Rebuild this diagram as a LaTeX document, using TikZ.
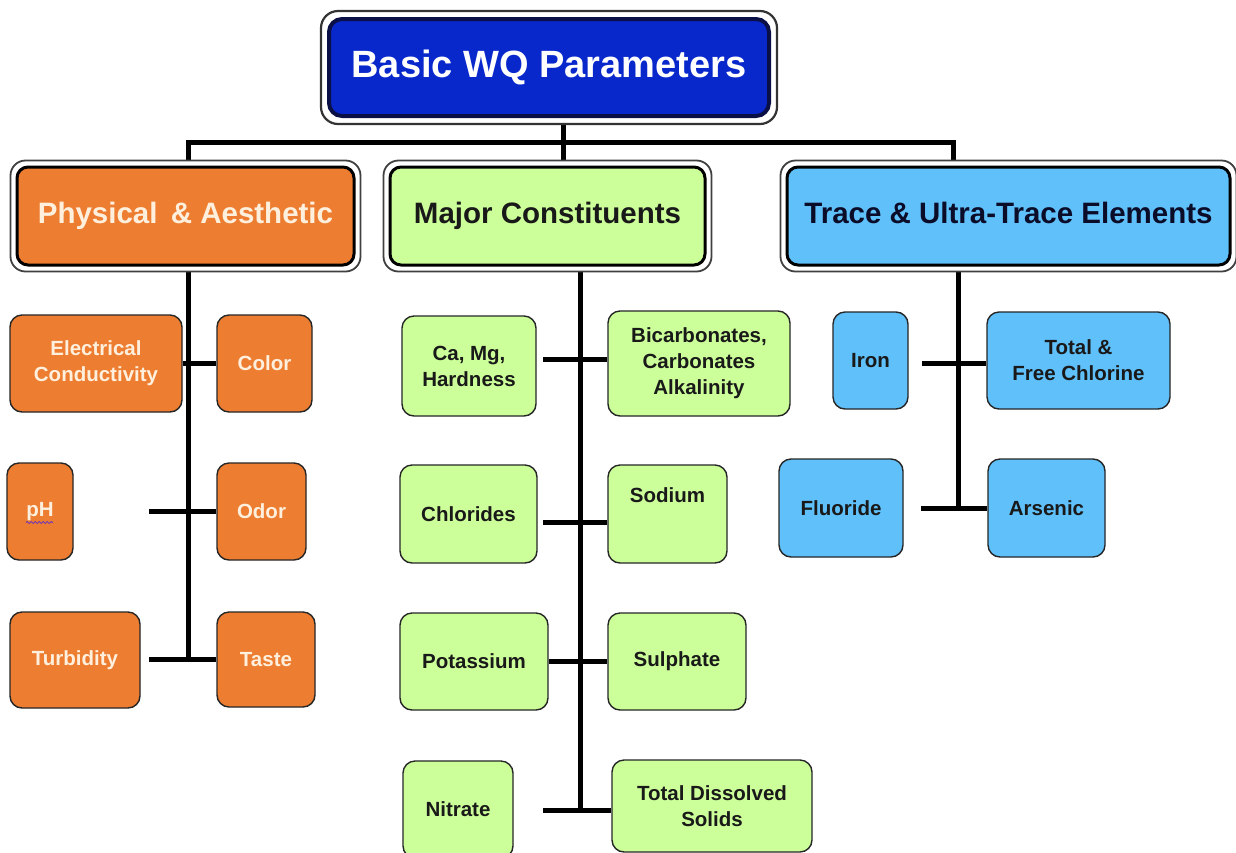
\documentclass[tikz,border=0pt]{standalone}
\usepackage{fontspec}
\setmainfont{Liberation Sans}
\usetikzlibrary{decorations.pathmorphing}
\definecolor{titleblue}{RGB}{8,40,204}
\definecolor{titleline}{RGB}{10,15,70}
\definecolor{orng}{RGB}{237,125,49}
\definecolor{lgreen}{RGB}{204,255,153}
\definecolor{lblue}{RGB}{95,192,250}
\definecolor{cream}{RGB}{255,240,222}
\definecolor{darktxt}{RGB}{25,25,25}
\definecolor{navytxt}{RGB}{10,12,40}
\definecolor{spell}{RGB}{120,60,170}
\pgfdeclarelayer{bg}
\pgfdeclarelayer{framelayer}
\pgfsetlayers{bg,framelayer,main}
\begin{document}
\begin{tikzpicture}[x=1pt,y=-1pt,
  conn/.style={line width=5pt,draw=black},
  leaf/.style={draw=black!85, line width=1.4pt, rounded corners=12pt, inner sep=0pt,
    align=center, font=\fontsize{20.5}{26}\selectfont\bfseries},
  oleaf/.style={leaf, fill=orng, text=cream},
  gleaf/.style={leaf, fill=lgreen, text=darktxt},
  bleaf/.style={leaf, fill=lblue, text=darktxt},
  cat/.style={draw=black, line width=3pt, rounded corners=11pt, inner sep=0pt,
    minimum height=98pt, text height=21pt, text depth=6pt,
    font=\fontsize{29.5}{34}\selectfont\bfseries},
  catframe/.style={draw=black!75, line width=1.8pt, fill=white, rounded corners=15pt},
]
\clip (0,0) rectangle (1236,852);
\begin{pgfonlayer}{bg}
  \fill[white] (0,0) rectangle (1236,852);
\end{pgfonlayer}

% title
\node[draw=titleline, line width=4pt, fill=titleblue, rounded corners=13pt, inner sep=0pt,
  minimum width=440pt, minimum height=97pt, text=white, text height=27pt, text depth=7pt,
  font=\fontsize{38}{44}\selectfont\bfseries] (title) at (549,67.5) {Basic WQ Parameters};

% categories
\node[cat, fill=orng, text=cream, minimum width=337pt] (phys) at (185.5,216)
  {Physical\hspace{0.45em}\& Aesthetic};
\node[cat, fill=lgreen, text=darktxt, minimum width=315pt] (major) at (547.5,216)
  {Major Constituents};
\node[cat, fill=lblue, text=navytxt, minimum width=443pt] (trace) at (1008.5,216)
  {Trace \& Ultra-Trace Elements};

% frames
\begin{pgfonlayer}{framelayer}
  \draw[catframe, rounded corners=17pt, line width=2.2pt, draw=black!80]
    ([shift={(-6,-6)}]title.north west) rectangle ([shift={(6,6)}]title.south east);
  \foreach \n in {phys,major,trace}
    \draw[catframe] ([shift={(-5,-5)}]\n.north west) rectangle ([shift={(5,5)}]\n.south east);
\end{pgfonlayer}

% physical leaves
\node[oleaf, minimum width=172pt, minimum height=97pt] (ec) at (96,363.5) {Electrical\\Conductivity};
\node[oleaf, minimum width=95pt, minimum height=97pt] (color) at (264.5,363.5) {Color};
\node[oleaf, minimum width=66pt, minimum height=97pt] (ph) at (40,511.5) {pH};
\node[oleaf, minimum width=89pt, minimum height=97pt] (odor) at (261.5,511.5) {Odor};
\node[oleaf, minimum width=130pt, minimum height=96pt] (turb) at (75,660) {Turbidity};
\node[oleaf, minimum width=98pt, minimum height=95pt] (taste) at (266,659.5) {Taste};
\draw[decorate, decoration={snake, amplitude=1pt, segment length=4pt}, draw=spell, line width=1pt]
  ([shift={(-14,11)}]ph.center) -- ([shift={(13,11)}]ph.center);

% major leaves
\node[gleaf, minimum width=134pt, minimum height=100pt] (camg) at (469,366) {Ca, Mg,\\Hardness};
\node[gleaf, minimum width=182pt, minimum height=105pt] (bicarb) at (699,363.5)
  {\baselineskip=24pt Bicarbonates,\\Carbonates\\Alkalinity};
\node[gleaf, minimum width=137pt, minimum height=98pt] (chlor) at (468.5,514) {Chlorides};
\node[gleaf, minimum width=119pt, minimum height=98pt] (sodium) at (667.5,514) {\raisebox{38pt}{Sodium}};
\node[gleaf, minimum width=148pt, minimum height=97pt] (potas) at (474,661.5) {Potassium};
\node[gleaf, minimum width=138pt, minimum height=97pt] (sulph) at (677,661.5) {Sulphate};
\node[gleaf, minimum width=110pt, minimum height=97pt] (nitrate) at (458,809.5) {Nitrate};
\node[gleaf, minimum width=200pt, minimum height=92pt] (tds) at (712,806) {\baselineskip=29pt Total Dissolved\\Solids};

% trace leaves
\node[bleaf, minimum width=75pt, minimum height=97pt] (iron) at (870.5,360.5) {Iron};
\node[bleaf, minimum width=183pt, minimum height=97pt] (chlorine) at (1078.5,360.5) {\baselineskip=31pt Total \&\\Free Chlorine};
\node[bleaf, minimum width=124pt, minimum height=98pt] (fluor) at (841,508) {Fluoride};
\node[bleaf, minimum width=117pt, minimum height=98pt] (arsenic) at (1046.5,508) {Arsenic};

% connectors
\coordinate (bar) at (563,142);
\coordinate (pl) at (188,142);
\coordinate (pr) at (953,142);
\coordinate (pbot) at (188,659);
\coordinate (mbot) at (580,810);
\coordinate (tbot) at (958,508);
\coordinate (phs) at (149,511);
\coordinate (turbs) at (149,659);
\coordinate (cas) at (543,359);
\coordinate (cls) at (543,522);
\coordinate (nis) at (543,810);
\coordinate (irs) at (922,363);
\coordinate (fls) at (921,508);
\begin{pgfonlayer}{bg}
  \draw[conn] (title.south -| bar) -- (major.north -| bar);
  \draw[conn] (phys.north -| pl) -- (pl) -- (pr) -- (trace.north -| pr);
  \draw[conn] (phys.south -| pbot) -- (pbot);
  \draw[conn] (major.south -| mbot) -- (mbot);
  \draw[conn] (trace.south -| tbot) -- (tbot);
\end{pgfonlayer}
\draw[conn] (ec.east) -- (ec.east -| color.west);
\draw[conn] (phs) -- (phs -| odor.west);
\draw[conn] (turbs) -- (turbs -| taste.west);
\draw[conn] (cas) -- (cas -| bicarb.west);
\draw[conn] (cls) -- (cls -| sodium.west);
\draw[conn] (potas.east) -- (potas.east -| sulph.west);
\draw[conn] (nis) -- (nis -| tds.west);
\draw[conn] (irs) -- (irs -| chlorine.west);
\draw[conn] (fls) -- (fls -| arsenic.west);
\end{tikzpicture}
\end{document}
